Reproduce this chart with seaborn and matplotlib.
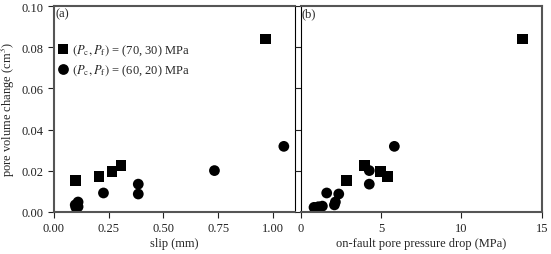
import matplotlib
matplotlib.use('agg')
import matplotlib.pyplot as plt
import pandas as pd
import numpy as np
import seaborn as sns

# (Pc, Pf) = (70, 30) MPa -> squares
sq_slip = [0.099, 0.206, 0.265, 0.306, 0.967]
sq_dp = [2.87, 5.39, 4.96, 3.98, 13.8]
sq_dv = [0.0151, 0.0170, 0.0195, 0.0226, 0.0841]

# (Pc, Pf) = (60, 20) MPa -> circles
ci_slip = [1.05, 0.733, 0.385, 0.385, 0.226, 0.11, 0.097, 0.11, 0.10, 0.105]
ci_dp = [5.83, 4.27, 4.27, 2.37, 1.62, 2.16, 2.10, 1.10, 0.83, 1.35]
ci_dv = [0.0318, 0.0200, 0.0134, 0.0086, 0.0091, 0.0047, 0.0033, 0.0024, 0.0021, 0.0027]

lab_sq = r"$(P_\mathrm{c}, P_\mathrm{f})$ = (70, 30) MPa"
lab_ci = r"$(P_\mathrm{c}, P_\mathrm{f})$ = (60, 20) MPa"

df = pd.concat([
    pd.DataFrame({"slip": sq_slip, "dp": sq_dp, "dv": sq_dv, "cond": lab_sq}),
    pd.DataFrame({"slip": ci_slip, "dp": ci_dp, "dv": ci_dv, "cond": lab_ci}),
])

sns.set_style("ticks")
plt.rcParams['font.family'] = ['Liberation Serif', 'DejaVu Serif']
plt.rcParams['mathtext.fontset'] = 'stix'
plt.rcParams['font.size'] = 9

fig = plt.figure(figsize=(5.51, 2.55), dpi=100)
ax1 = fig.add_axes([0.098, 0.166, 0.437, 0.8055])
ax2 = fig.add_axes([0.5457, 0.166, 0.4374, 0.8055])

mk = {lab_sq: "s", lab_ci: "o"}
sns.scatterplot(data=df, x="slip", y="dv", style="cond", markers=mk,
                color="black", s=60, edgecolor="black", linewidth=0,
                ax=ax1, style_order=[lab_sq, lab_ci])
sns.scatterplot(data=df, x="dp", y="dv", style="cond", markers=mk,
                color="black", s=60, edgecolor="black", linewidth=0,
                ax=ax2, legend=False, style_order=[lab_sq, lab_ci])

for ax in (ax1, ax2):
    ax.set_ylim(0, 0.10)
    ax.set_yticks(np.arange(0, 0.101, 0.02))
    ax.tick_params(direction="out", length=4, width=0.8, labelsize=9, colors="#222")
    for s in ax.spines.values():
        s.set_visible(True)
        s.set_color("#555")
        s.set_linewidth(1.5)

ax1.spines["right"].set_color("black")
ax1.spines["right"].set_linewidth(0.8)
ax2.spines["left"].set_color("black")
ax2.spines["left"].set_linewidth(0.8)

ax1.set_xlim(0, 1.1)
ax1.set_xticks([0, 0.25, 0.5, 0.75, 1.0])
ax1.set_xticklabels(["0.00", "0.25", "0.50", "0.75", "1.00"])
ax1.set_yticklabels(["0.00", "0.02", "0.04", "0.06", "0.08", "0.10"])
ax1.set_xlabel("slip (mm)", fontsize=9, labelpad=2)
ax1.set_ylabel("pore volume change (cm$^3$)", fontsize=9, labelpad=3)

ax2.set_xlim(0, 15)
ax2.set_xticks([0, 5, 10, 15])
ax2.set_yticklabels([])
ax2.set_xlabel("on-fault pore pressure drop (MPa)", fontsize=9, labelpad=2)
ax2.set_ylabel("")

ax1.text(0.005, 0.995, "(a)", transform=ax1.transAxes, va="top", ha="left", fontsize=9)
ax2.text(0.005, 0.995, "(b)", transform=ax2.transAxes, va="top", ha="left", fontsize=9)

ax1.legend(loc="upper left", bbox_to_anchor=(-0.03, 0.865), frameon=False,
           handletextpad=0.1, borderpad=0.2, labelspacing=0.35, fontsize=9,
           handlelength=1.2, title=None)

fig.savefig("out.png", dpi=100)
